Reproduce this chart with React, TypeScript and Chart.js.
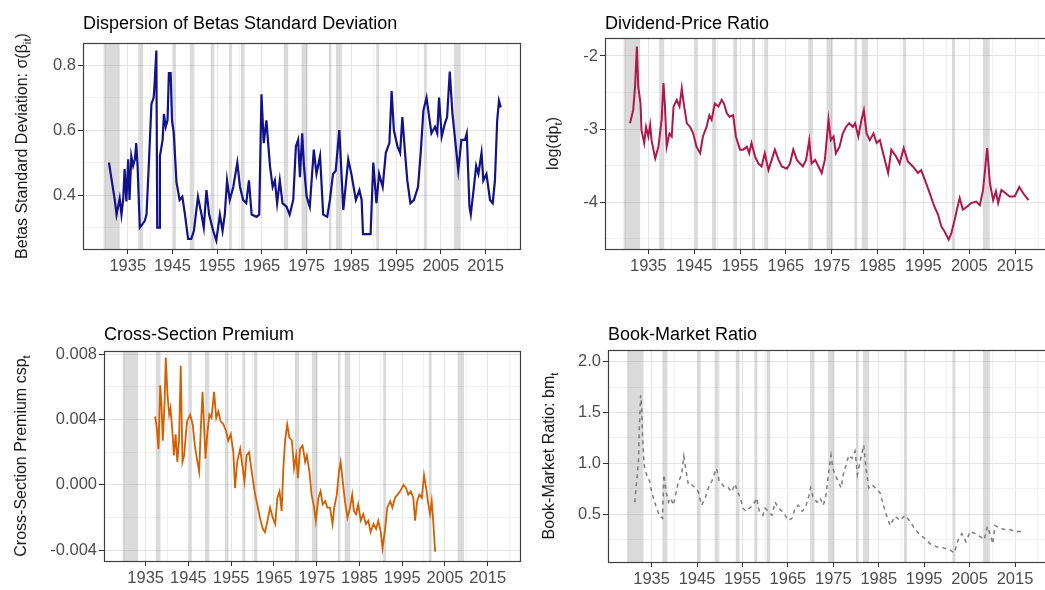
import { useEffect, useRef } from 'react';
import { Chart, registerables } from 'chart.js';

Chart.register(...registerables);

// ---------------------------------------------------------------------------
// Data
// ---------------------------------------------------------------------------

// NBER recession periods (decimal years)
const RECESSION_START = [1929.62, 1937.37, 1945.12, 1948.87, 1953.54, 1957.62, 1960.29, 1969.96, 1973.87, 1980.04, 1981.54, 1990.54, 2001.21, 2007.96];
const RECESSION_END = [1933.21, 1938.46, 1945.79, 1949.79, 1954.37, 1958.29, 1961.12, 1970.87, 1975.21, 1980.54, 1982.87, 1991.21, 2001.87, 2009.46];

// Cross-sectional standard deviation of betas
const BETA_SD_YEARS = [
  1930.8, 1932.1, 1932.5, 1933.2, 1933.6, 1934.0, 1934.3, 1934.7, 1935.1, 1935.4, 1935.8, 1936.2, 1936.6, 1936.9, 1937.2,
  1937.7, 1938.8, 1939.2, 1939.7, 1940.3, 1940.8, 1941.0, 1941.4, 1941.6, 1942.0, 1942.2, 1942.8, 1943.1, 1943.5, 1943.9,
  1944.2, 1944.6, 1944.9, 1945.3, 1945.9, 1946.6, 1947.2, 1947.8, 1948.5, 1949.2, 1949.8, 1950.7, 1951.5, 1952.0, 1952.6,
  1953.2, 1954.1, 1954.8, 1955.6, 1956.2, 1956.7, 1957.2, 1957.8, 1958.6, 1959.5, 1960.1, 1960.8, 1961.5, 1962.1, 1962.7,
  1963.8, 1964.4, 1964.9, 1965.4, 1966.0, 1966.8, 1967.4, 1967.9, 1968.4, 1969.0, 1969.6, 1970.5, 1971.2, 1972.0, 1972.6,
  1973.1, 1973.5, 1974.0, 1974.4, 1975.0, 1975.7, 1976.6, 1977.2, 1978.0, 1978.7, 1979.6, 1980.2, 1980.9, 1981.5, 1982.3,
  1983.2, 1984.3, 1985.0, 1986.0, 1986.8, 1987.3, 1987.6, 1988.4, 1989.3, 1989.9, 1990.6, 1991.2, 1992.0, 1992.7, 1993.5,
  1994.0, 1994.5, 1995.3, 1995.9, 1996.4, 1997.0, 1997.5, 1998.2, 1999.0, 1999.9, 2000.5, 2001.1, 2001.8, 2002.4, 2002.9,
  2003.7, 2004.2, 2004.6, 2005.2, 2005.9, 2006.4, 2007.0, 2007.6, 2008.2, 2008.9, 2009.6, 2010.4, 2010.8, 2011.4, 2011.7,
  2012.4, 2012.9, 2013.4, 2014.1, 2014.5, 2015.2, 2016.0, 2016.6, 2017.1, 2017.6, 2018.0, 2018.4,
];
const BETA_SD = [
  0.50, 0.385, 0.34, 0.39, 0.34, 0.39, 0.48, 0.38, 0.51, 0.385, 0.52, 0.49, 0.51, 0.56, 0.49,
  0.30, 0.32, 0.34, 0.49, 0.68, 0.70, 0.74, 0.845, 0.30, 0.30, 0.52, 0.57, 0.65, 0.61, 0.63,
  0.775, 0.775, 0.63, 0.59, 0.44, 0.385, 0.395, 0.34, 0.265, 0.265, 0.29, 0.395, 0.34, 0.30, 0.415,
  0.34, 0.29, 0.26, 0.34, 0.29, 0.34, 0.445, 0.385, 0.425, 0.50, 0.425, 0.385, 0.375, 0.445, 0.34,
  0.333, 0.34, 0.71, 0.56, 0.63, 0.49, 0.425, 0.445, 0.375, 0.445, 0.375, 0.364, 0.34, 0.385, 0.55,
  0.57, 0.455, 0.59, 0.49, 0.395, 0.364, 0.54, 0.465, 0.52, 0.34, 0.333, 0.385, 0.465, 0.475, 0.60,
  0.354, 0.51, 0.465, 0.385, 0.415, 0.385, 0.28, 0.28, 0.28, 0.50, 0.375, 0.465, 0.425, 0.53, 0.56,
  0.72, 0.60, 0.55, 0.53, 0.64, 0.53, 0.445, 0.375, 0.385, 0.425, 0.53, 0.66, 0.70, 0.64, 0.59,
  0.61, 0.59, 0.70, 0.58, 0.62, 0.64, 0.78, 0.65, 0.57, 0.475, 0.57, 0.57, 0.59, 0.364, 0.34,
  0.425, 0.49, 0.465, 0.53, 0.445, 0.465, 0.385, 0.375, 0.445, 0.63, 0.69, 0.67,
];

// Log dividend-price ratio
const DP_YEARS = [
  1931.0, 1931.7, 1932.1, 1932.5, 1932.8, 1933.0, 1933.3, 1933.5, 1934.1, 1934.5, 1935.0, 1935.4, 1935.7, 1936.5, 1937.2,
  1937.9, 1938.3, 1938.6, 1939.0, 1939.6, 1940.1, 1940.5, 1941.2, 1941.8, 1942.3, 1942.6, 1943.4, 1944.1, 1944.8, 1945.5,
  1946.3, 1946.9, 1947.7, 1948.3, 1948.8, 1949.5, 1950.3, 1951.0, 1951.5, 1952.1, 1952.7, 1953.5, 1954.1, 1955.0, 1955.7,
  1956.5, 1957.0, 1957.5, 1958.3, 1959.0, 1959.7, 1960.4, 1961.2, 1961.9, 1962.6, 1963.4, 1964.1, 1965.2, 1965.9, 1966.6,
  1967.4, 1968.1, 1968.7, 1969.4, 1970.1, 1970.6, 1971.4, 1972.1, 1972.8, 1973.5, 1974.3, 1974.8, 1975.4, 1975.9, 1976.7,
  1977.4, 1978.1, 1978.8, 1979.6, 1980.1, 1980.8, 1981.5, 1982.0, 1982.6, 1983.3, 1984.1, 1984.8, 1985.5, 1986.2, 1987.3,
  1988.0, 1989.1, 1989.8, 1990.7, 1991.6, 1992.7, 1993.8, 1994.5, 1995.3, 1996.4, 1997.4, 1998.2, 1998.9, 1999.6, 2000.5,
  2001.1, 2001.8, 2002.3, 2002.9, 2003.6, 2004.5, 2005.4, 2006.5, 2007.3, 2008.0, 2008.9, 2009.5, 2010.2, 2010.8, 2011.3,
  2012.0, 2013.0, 2013.8, 2014.9, 2015.9, 2016.8, 2017.9,
];
const DP = [
  -2.92, -2.74, -2.42, -1.87, -2.42, -2.51, -2.65, -3.01, -3.19, -2.97, -3.10, -2.94, -3.15, -3.40, -3.24,
  -2.87, -2.37, -2.65, -3.24, -3.06, -3.10, -2.69, -2.60, -2.69, -2.44, -2.60, -2.92, -2.97, -3.06, -3.24,
  -3.33, -3.10, -2.97, -2.81, -2.87, -2.65, -2.69, -2.60, -2.65, -2.78, -2.83, -2.81, -3.10, -3.28, -3.28,
  -3.24, -3.33, -3.19, -3.38, -3.47, -3.51, -3.33, -3.56, -3.42, -3.28, -3.42, -3.51, -3.54, -3.47, -3.28,
  -3.42, -3.47, -3.51, -3.42, -3.15, -3.47, -3.42, -3.51, -3.60, -3.42, -2.87, -3.15, -3.10, -3.33, -3.24,
  -3.06, -2.97, -2.92, -2.97, -2.92, -3.10, -2.87, -2.74, -3.06, -3.15, -3.06, -3.19, -3.15, -3.33, -3.60,
  -3.28, -3.38, -3.47, -3.26, -3.44, -3.51, -3.60, -3.56, -3.69, -3.88, -4.06, -4.17, -4.33, -4.40, -4.51,
  -4.42, -4.24, -4.10, -3.94, -4.10, -4.06, -4.01, -3.99, -4.04, -3.83, -3.26, -3.74, -3.97, -3.85, -4.01,
  -3.83, -3.88, -3.92, -3.92, -3.79, -3.88, -3.97,
];

// Cross-section premium
const CSP_YEARS = [
  1937.2, 1937.6, 1938.0, 1938.4, 1938.7, 1939.0, 1939.4, 1939.7, 1940.1, 1940.5, 1940.8, 1941.3, 1941.6, 1942.0, 1942.4,
  1942.8, 1943.2, 1943.6, 1944.0, 1944.4, 1944.7, 1945.4, 1946.0, 1946.5, 1947.1, 1947.5, 1947.9, 1948.3, 1948.6, 1949.0,
  1949.4, 1949.9, 1950.4, 1951.0, 1951.5, 1952.0, 1952.5, 1953.2, 1953.8, 1954.3, 1954.9, 1955.5, 1955.9, 1956.4, 1957.1,
  1957.7, 1958.1, 1958.6, 1959.2, 1959.8, 1960.6, 1961.1, 1961.7, 1962.4, 1962.9, 1963.5, 1964.1, 1964.7, 1965.3, 1965.8,
  1966.3, 1966.8, 1967.2, 1967.6, 1968.1, 1968.6, 1969.2, 1969.7, 1970.2, 1970.6, 1971.1, 1971.7, 1972.3, 1972.7, 1973.3,
  1973.8, 1974.4, 1974.8, 1975.4, 1975.9, 1976.4, 1977.0, 1977.5, 1978.1, 1978.7, 1979.1, 1979.7, 1980.2, 1980.6, 1981.1,
  1981.6, 1982.2, 1982.8, 1983.3, 1983.7, 1984.2, 1984.7, 1985.3, 1985.9, 1986.5, 1987.1, 1987.6, 1988.3, 1988.9, 1989.4,
  1990.0, 1990.4, 1991.0, 1991.5, 1992.2, 1992.7, 1993.3, 1993.9, 1994.5, 1995.3, 1995.9, 1996.4, 1997.0, 1997.6, 1998.0,
  1998.5, 1999.0, 1999.6, 2000.1, 2000.6, 2001.0, 2001.5, 2001.9, 2002.3, 2002.7,
];
const CSP = [
  0.0042, 0.0035, 0.0022, 0.0061, 0.0049, 0.0027, 0.0049, 0.0078, 0.0055, 0.0043, 0.0047, 0.0031, 0.0018, 0.0031, 0.0014,
  0.0027, 0.0073, 0.0014, 0.0018, 0.0031, 0.0039, 0.0043, 0.0037, 0.0024, 0.0014, 0.0008, 0.0035, 0.0057, 0.0039, 0.0016,
  0.0031, 0.0043, 0.0041, 0.0057, 0.0041, 0.0045, 0.0039, 0.0037, 0.0033, 0.0027, 0.0031, 0.0020, -0.0002, 0.0014, 0.0022,
  0.0010, 0.0002, 0.0018, 0.0020, 0.0008, -0.0006, -0.0012, -0.0020, -0.0027, -0.0029, -0.0022, -0.0014, -0.0020, -0.0024, -0.0008,
  -0.0004, -0.0016, 0.0010, 0.0027, 0.0037, 0.0029, 0.0027, 0.0010, 0.0018, 0.0004, 0.0022, 0.0024, 0.0014, 0.0018, 0.0008,
  -0.0006, -0.0014, -0.0022, -0.0008, -0.0004, -0.0012, -0.0010, -0.0014, -0.0014, -0.0024, -0.0014, -0.0006, 0.0008, 0.0014, 0.0002,
  -0.0010, -0.0020, -0.0014, -0.0006, -0.0016, -0.0018, -0.0012, -0.0022, -0.0018, -0.0024, -0.0022, -0.0029, -0.0024, -0.0027, -0.0022,
  -0.0029, -0.0039, -0.0027, -0.0014, -0.0010, -0.0014, -0.0008, -0.0006, -0.0004, 0.0000, -0.0002, -0.0006, -0.0004, -0.0008, -0.0022,
  -0.0010, -0.0006, -0.0008, 0.0006, -0.0002, -0.0010, -0.0018, -0.0010, -0.0024, -0.0041,
];

// Book-to-market ratio
const BM_YEARS = [
  1931.3, 1931.7, 1932.1, 1932.3, 1932.6, 1932.8, 1933.0, 1933.3, 1933.5, 1933.9, 1934.3, 1934.6, 1935.0, 1935.4, 1936.1,
  1936.8, 1937.4, 1937.7, 1938.2, 1938.7, 1939.2, 1939.8, 1940.4, 1940.9, 1941.6, 1942.1, 1942.6, 1943.1, 1943.8, 1944.6,
  1945.3, 1946.0, 1946.8, 1947.5, 1948.2, 1949.0, 1949.3, 1949.9, 1950.4, 1951.2, 1951.9, 1952.6, 1953.4, 1953.9, 1954.5,
  1955.1, 1955.8, 1956.5, 1957.4, 1958.1, 1958.7, 1959.5, 1960.0, 1960.7, 1961.5, 1962.2, 1962.9, 1963.7, 1964.4, 1965.1,
  1965.9, 1966.6, 1967.3, 1968.1, 1968.8, 1969.5, 1970.0, 1970.6, 1971.4, 1972.1, 1972.8, 1973.4, 1973.9, 1974.5, 1974.9,
  1975.4, 1976.1, 1976.7, 1977.2, 1977.8, 1978.4, 1979.1, 1979.8, 1980.3, 1980.9, 1981.7, 1982.2, 1982.8, 1983.5, 1984.2,
  1985.3, 1986.4, 1987.5, 1988.6, 1989.7, 1990.8, 1991.9, 1993.0, 1994.1, 1995.2, 1996.3, 1997.8, 1999.2, 2000.7, 2001.6,
  2002.5, 2003.3, 2004.2, 2005.1, 2006.2, 2007.3, 2008.2, 2008.9, 2009.5, 2010.1, 2010.6, 2011.7, 2012.8, 2013.9, 2015.0,
  2016.1, 2017.2,
];
const BM = [
  0.62, 0.82, 1.02, 1.35, 1.67, 1.57, 1.28, 1.02, 0.95, 0.89, 0.85, 0.82, 0.72, 0.66, 0.56,
  0.48, 0.46, 0.89, 0.72, 0.62, 0.66, 0.59, 0.72, 0.82, 0.89, 1.07, 0.92, 0.79, 0.79, 0.76,
  0.72, 0.59, 0.66, 0.76, 0.82, 0.92, 0.95, 0.82, 0.80, 0.76, 0.76, 0.72, 0.80, 0.72, 0.67,
  0.56, 0.53, 0.56, 0.59, 0.66, 0.53, 0.49, 0.56, 0.53, 0.49, 0.62, 0.56, 0.53, 0.49, 0.44,
  0.46, 0.56, 0.59, 0.53, 0.56, 0.66, 0.76, 0.66, 0.62, 0.66, 0.59, 0.69, 0.89, 1.08, 0.95,
  0.89, 0.82, 0.76, 0.89, 0.98, 1.08, 1.05, 1.12, 0.89, 1.02, 1.18, 0.95, 0.76, 0.79, 0.76,
  0.71, 0.53, 0.39, 0.48, 0.44, 0.49, 0.43, 0.35, 0.30, 0.26, 0.21, 0.18, 0.17, 0.15, 0.12,
  0.25, 0.31, 0.23, 0.33, 0.31, 0.28, 0.25, 0.38, 0.31, 0.21, 0.39, 0.36, 0.35, 0.35, 0.33,
  0.33, 0.32,
];

// Axis ticks
const X_MAJOR = [1935, 1945, 1955, 1965, 1975, 1985, 1995, 2005, 2015];
const X_MINOR = [1930, 1940, 1950, 1960, 1970, 1980, 1990, 2000, 2010, 2020];

const BETA_TICKS = [0.4, 0.6, 0.8];
const BETA_TICK_LABELS = ['0.4', '0.6', '0.8'];
const BETA_MINOR = [0.3, 0.5, 0.7];

const DP_TICKS = [-4, -3, -2];
const DP_TICK_LABELS = ['-4', '-3', '-2'];
const DP_MINOR = [-4.5, -3.5, -2.5];

const CSP_TICKS = [-0.004, 0, 0.004, 0.008];
const CSP_TICK_LABELS = ['-0.004', '0.000', '0.004', '0.008'];
const CSP_MINOR = [-0.002, 0.002, 0.006];

const BM_TICKS = [0.5, 1.0, 1.5, 2.0];
const BM_TICK_LABELS = ['0.5', '1.0', '1.5', '2.0'];
const BM_MINOR = [0.25, 0.75, 1.25, 1.75];

// ---------------------------------------------------------------------------
// Styling / layout
// ---------------------------------------------------------------------------

const FONT = "'Liberation Sans', Arial, Helvetica, sans-serif";
const CANVAS_W = 1060;
const CANVAS_H = 590;
const Y_AXIS_W = 70;
const X_AXIS_H = 25;

const GRID_MAJOR = '#e4e4e4';
const GRID_MINOR = '#f1f1f1';
const BAND_FILL = 'rgba(140,140,140,0.32)';
const FRAME = '#404040';

type Seg = { text: string; sub?: boolean };

type PanelCfg = {
  title: string;
  yTitle: Seg[];
  years: number[];
  values: number[];
  color: string;
  lineWidth: number;
  dash: number[];
  yMajor: number[];
  yLabels: string[];
  yMinor: number[];
  yMin: number;
  yMax: number;
  xMin: number;
  xMax: number;
  area: { left: number; top: number; right: number; bottom: number };
  titleBaseline: number;
  yTitleX: number;
};

const PANELS: PanelCfg[] = [
  {
    title: 'Dispersion of Betas Standard Deviation',
    yTitle: [{ text: 'Betas Standard Deviation: σ(β' }, { text: 'it', sub: true }, { text: ')' }],
    years: BETA_SD_YEARS,
    values: BETA_SD,
    color: '#12128a',
    lineWidth: 2.2,
    dash: [],
    yMajor: BETA_TICKS,
    yLabels: BETA_TICK_LABELS,
    yMinor: BETA_MINOR,
    yMin: 0.234,
    yMax: 0.868,
    xMin: 1925.0,
    xMax: 2022.7,
    area: { left: 83, top: 43, right: 520, bottom: 249 },
    titleBaseline: 28.5,
    yTitleX: 23,
  },
  {
    title: 'Dividend-Price Ratio',
    yTitle: [{ text: 'log(dp' }, { text: 't', sub: true }, { text: ')' }],
    years: DP_YEARS,
    values: DP,
    color: '#b0174a',
    lineWidth: 2,
    dash: [],
    yMajor: DP_TICKS,
    yLabels: DP_TICK_LABELS,
    yMinor: DP_MINOR,
    yMin: -4.638,
    yMax: -1.754,
    xMin: 1925.55,
    xMax: 2022.6,
    area: { left: 605, top: 38, right: 1050, bottom: 249 },
    titleBaseline: 28.5,
    yTitleX: 554,
  },
  {
    title: 'Cross-Section Premium',
    yTitle: [{ text: 'Cross-Section Premium csp' }, { text: 't', sub: true }],
    years: CSP_YEARS,
    values: CSP,
    color: '#d55e00',
    lineWidth: 1.8,
    dash: [],
    yMajor: CSP_TICKS,
    yLabels: CSP_TICK_LABELS,
    yMinor: CSP_MINOR,
    yMin: -0.00467,
    yMax: 0.0082,
    xMin: 1925.25,
    xMax: 2022.55,
    area: { left: 104, top: 351, right: 520, bottom: 561 },
    titleBaseline: 340,
    yTitleX: 22,
  },
  {
    title: 'Book-Market Ratio',
    yTitle: [{ text: 'Book-Market Ratio: bm' }, { text: 't', sub: true }],
    years: BM_YEARS,
    values: BM,
    color: '#7d7d7d',
    lineWidth: 1.5,
    dash: [4, 4],
    yMajor: BM_TICKS,
    yLabels: BM_TICK_LABELS,
    yMinor: BM_MINOR,
    yMin: 0.031,
    yMax: 2.115,
    xMin: 1925.4,
    xMax: 2022.7,
    area: { left: 608, top: 350, right: 1050, bottom: 562 },
    titleBaseline: 340,
    yTitleX: 550,
  },
];

const near = (list: number[], v: number) => list.findIndex((t) => Math.abs(t - v) < 1e-9);

// Text with subscript segments, centred at (cx, cy), optionally rotated.
function drawRichText(ctx: CanvasRenderingContext2D, segs: Seg[], cx: number, cy: number, size: number, rotate: boolean) {
  ctx.save();
  ctx.translate(cx, cy);
  if (rotate) ctx.rotate(-Math.PI / 2);
  ctx.fillStyle = '#1a1a1a';
  ctx.textBaseline = 'middle';
  ctx.textAlign = 'left';
  const mainFont = `${size}px ${FONT}`;
  const subFont = `${(size * 0.72).toFixed(1)}px ${FONT}`;
  const widths = segs.map((s) => {
    ctx.font = s.sub ? subFont : mainFont;
    return ctx.measureText(s.text).width;
  });
  const total = widths.reduce((a, b) => a + b, 0);
  let x = -total / 2;
  segs.forEach((s, i) => {
    ctx.font = s.sub ? subFont : mainFont;
    ctx.fillText(s.text, x, s.sub ? size * 0.3 : 0);
    x += widths[i];
  });
  ctx.restore();
}

function Panel({ cfg }: { cfg: PanelCfg }) {
  const ref = useRef<HTMLCanvasElement>(null);

  useEffect(() => {
    const canvas = ref.current;
    if (!canvas) return;
    const a = cfg.area;

    const decorations = {
      id: 'panelDecorations',
      beforeDatasetsDraw(chart: Chart) {
        const { ctx, chartArea } = chart;
        const xs = chart.scales.x;
        ctx.save();
        ctx.beginPath();
        ctx.rect(chartArea.left, chartArea.top, chartArea.right - chartArea.left, chartArea.bottom - chartArea.top);
        ctx.clip();
        ctx.fillStyle = BAND_FILL;
        RECESSION_START.forEach((s, i) => {
          const x0 = xs.getPixelForValue(s);
          const x1 = xs.getPixelForValue(RECESSION_END[i]);
          ctx.fillRect(x0, chartArea.top, x1 - x0, chartArea.bottom - chartArea.top);
        });
        ctx.restore();
      },
      afterDraw(chart: Chart) {
        const { ctx, chartArea } = chart;
        ctx.save();
        ctx.strokeStyle = FRAME;
        ctx.lineWidth = 1.2;
        ctx.strokeRect(
          Math.round(chartArea.left) + 0.5,
          Math.round(chartArea.top) + 0.5,
          Math.round(chartArea.right - chartArea.left),
          Math.round(chartArea.bottom - chartArea.top),
        );
        ctx.fillStyle = '#000';
        ctx.font = `18px ${FONT}`;
        ctx.textAlign = 'left';
        ctx.textBaseline = 'alphabetic';
        ctx.fillText(cfg.title, chartArea.left, cfg.titleBaseline);
        ctx.restore();
        drawRichText(ctx, cfg.yTitle, cfg.yTitleX, (chartArea.top + chartArea.bottom) / 2, 16, true);
      },
    };

    const tickFont = { family: FONT, size: 16.5 };

    const chart = new Chart(canvas, {
      type: 'line',
      data: {
        datasets: [
          {
            data: cfg.years.map((yr, i) => ({ x: yr, y: cfg.values[i] })),
            borderColor: cfg.color,
            borderWidth: cfg.lineWidth,
            borderDash: cfg.dash,
            pointRadius: 0,
            tension: 0,
            fill: false,
          },
        ],
      },
      options: {
        responsive: false,
        animation: false,
        devicePixelRatio: 1,
        events: [],
        layout: {
          autoPadding: false,
          padding: {
            left: a.left - Y_AXIS_W,
            top: a.top,
            right: CANVAS_W - a.right,
            bottom: CANVAS_H - a.bottom - X_AXIS_H,
          },
        },
        plugins: {
          legend: { display: false },
          tooltip: { enabled: false },
          title: { display: false },
        },
        scales: {
          x: {
            type: 'linear',
            min: cfg.xMin,
            max: cfg.xMax,
            afterBuildTicks: (s: any) => {
              s.ticks = [...X_MAJOR, ...X_MINOR].sort((p, q) => p - q).map((v) => ({ value: v }));
            },
            afterFit: (s: any) => {
              s.height = X_AXIS_H;
            },
            ticks: {
              autoSkip: false,
              maxRotation: 0,
              padding: 3,
              font: tickFont,
              color: '#4d4d4d',
              callback: (v: any) => (near(X_MAJOR, Number(v)) >= 0 ? String(v) : ''),
            },
            grid: {
              color: (c: any) => (c.tick && near(X_MAJOR, c.tick.value) >= 0 ? GRID_MAJOR : GRID_MINOR),
              tickColor: (c: any) => (c.tick && near(X_MAJOR, c.tick.value) >= 0 ? '#333' : 'rgba(0,0,0,0)'),
              tickLength: 5,
              lineWidth: 1,
            },
            border: { display: false },
          },
          y: {
            type: 'linear',
            min: cfg.yMin,
            max: cfg.yMax,
            afterBuildTicks: (s: any) => {
              s.ticks = [...cfg.yMajor, ...cfg.yMinor].sort((p, q) => p - q).map((v) => ({ value: v }));
            },
            afterFit: (s: any) => {
              s.width = Y_AXIS_W;
            },
            ticks: {
              autoSkip: false,
              padding: 2,
              font: tickFont,
              color: '#4d4d4d',
              callback: (v: any) => {
                const i = near(cfg.yMajor, Number(v));
                return i >= 0 ? cfg.yLabels[i] : '';
              },
            },
            grid: {
              color: (c: any) => (c.tick && near(cfg.yMajor, c.tick.value) >= 0 ? GRID_MAJOR : GRID_MINOR),
              tickColor: (c: any) => (c.tick && near(cfg.yMajor, c.tick.value) >= 0 ? '#333' : 'rgba(0,0,0,0)'),
              tickLength: 5,
              lineWidth: 1,
            },
            border: { display: false },
          },
        },
      },
      plugins: [decorations],
    } as any);

    return () => chart.destroy();
  }, [cfg]);

  return (
    <canvas
      ref={ref}
      width={CANVAS_W}
      height={CANVAS_H}
      style={{ position: 'absolute', left: 0, top: 0, width: CANVAS_W, height: CANVAS_H }}
    />
  );
}

export default function App() {
  return (
    <div
      style={{
        position: 'fixed',
        left: 0,
        top: 0,
        width: 1045,
        height: 590,
        overflow: 'hidden',
        background: '#ffffff',
      }}
    >
      {PANELS.map((p) => (
        <Panel key={p.title} cfg={p} />
      ))}
    </div>
  );
}
